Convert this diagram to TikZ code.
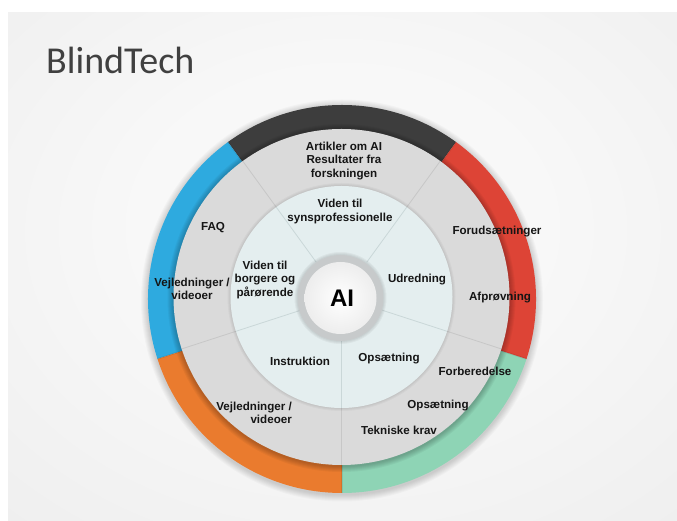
\documentclass[tikz,border=0pt]{standalone}
\usepackage{fontspec}
\usetikzlibrary{calc}
\setmainfont{Liberation Sans}
\newfontfamily\titlefont{Carlito}
\definecolor{bgin}{HTML}{F8F8F8}
\definecolor{bgout}{HTML}{E0E0E0}
\definecolor{segdark}{HTML}{3D3D3D}
\definecolor{segblue}{HTML}{2EAADF}
\definecolor{segorange}{HTML}{EA7B2E}
\definecolor{seggreen}{HTML}{8ED4B5}
\definecolor{segred}{HTML}{DD4436}
\definecolor{ringgray}{HTML}{DADADA}
\definecolor{ringline}{HTML}{C7C7C7}
\definecolor{corefill}{HTML}{E4EEEF}
\definecolor{coreline}{HTML}{CAD7D8}
\definecolor{hubring}{HTML}{C7CACB}
\definecolor{txt}{HTML}{151515}
\definecolor{titlecol}{HTML}{404040}
\begin{document}
\begin{tikzpicture}[x=1pt,y=1pt,
  lbl/.style={font=\bfseries\fontsize{11.6}{13.5}\selectfont, align=center, text=txt, inner sep=0pt},
  divider/.style={ringline, line width=0.8pt},
  coredivider/.style={coreline, line width=0.8pt},
  segedge/.style={black, opacity=0.08, line width=1.6pt}]
\useasboundingbox (0,0) rectangle (677,521);
\fill[white] (0,0) rectangle (677,521);
% slide background
\pgfdeclareradialshading{slidebg}{\pgfpoint{0bp}{5bp}}{color(0bp)=(bgin); color(15bp)=(bgin); color(75bp)=(bgout)}
\shade[shading=slidebg] (8,0) rectangle (677,508);

% centres
\coordinate (oc) at (342,222);   % outer coloured ring
\coordinate (c) at (341.5,224);  % inner rings

% soft shadow around the coloured ring
\foreach \i in {1,...,7} {\fill[black, opacity=0.022] ($(oc)+(0,-1.5)$) circle ({194+\i});}

% coloured outer segments
\fill[segdark]   (oc) -- ++(54:194)  arc[start angle=54,  end angle=126, radius=194] -- cycle;
\fill[segblue]   (oc) -- ++(126:194) arc[start angle=126, end angle=198, radius=194] -- cycle;
\fill[segorange] (oc) -- ++(198:194) arc[start angle=198, end angle=270, radius=194] -- cycle;
\fill[seggreen]  (oc) -- ++(270:194) arc[start angle=270, end angle=342, radius=194] -- cycle;
\fill[segred]    (oc) -- ++(342:194) arc[start angle=-18, end angle=54,  radius=194] -- cycle;
\foreach \a in {54,126,198,270,342} {\draw[segedge] ($(oc)+(\a:160)$) -- ($(oc)+(\a:194)$);}

% shadow of the grey ring onto the coloured ring
\foreach \i in {1,...,6} {\fill[black, opacity=0.04] ($(c)+(0,-1)$) circle ({168+\i});}

% grey ring
\fill[ringgray] (c) circle (168);
\foreach \a in {54,126,198,270,342} {\draw[divider] ($(c)+(\a:111)$) -- ($(c)+(\a:168)$);}

% light core ring
\foreach \i in {1,...,3} {\fill[black, opacity=0.03] (c) circle ({111+\i});}
\fill[corefill] (c) circle (111);
\foreach \a in {54,126,198,270,342} {\draw[coredivider] ($(c)+(\a:43)$) -- ($(c)+(\a:111)$);}

% hub
\foreach \i in {1,...,3} {\fill[black, opacity=0.04] (340.5,223) circle ({43+\i});}
\fill[hubring] (340.5,223) circle (43);
\shade[inner color=white, outer color=white!93!black] (340.5,223) circle (36);
\node[font=\bfseries\fontsize{24}{24}\selectfont, text=black, inner sep=0pt] (ai) at (342,222.5) {AI};

% title
\node[font=\titlefont\fontsize{38}{38}\selectfont, text=titlecol, anchor=base west, inner sep=0pt] (title) at (46,447) {BlindTech};

% outer ring labels
\node[lbl] (art) at (344,360) {Artikler om AI\\Resultater fra\\forskningen};
\node[lbl] (faq) at (213,293) {FAQ};
\node[lbl] (vejA) at (192,232) {Vejledninger /\\videoer};
\node[lbl] (forud) at (497,289) {Forudsætninger};
\node[lbl] (afpr) at (500,223) {Afprøvning};
\node[lbl] (forb) at (475,150) {Forberedelse};
\node[lbl] (opsB) at (438,115) {Opsætning};
\node[lbl] (tek) at (399,91) {Tekniske krav};
\node[lbl, align=right, anchor=east] (vejB) at (292,108) {Vejledninger /\\videoer};

% core ring labels
\node[lbl] (syn) at (340,309.5) {Viden til\\synsprofessionelle};
\node[lbl] (borg) at (265,241) {Viden til\\borgere og\\pårørende};
\node[lbl] (udr) at (417,241) {Udredning};
\node[lbl] (instr) at (300,160) {Instruktion};
\node[lbl] (opsA) at (389,162) {Opsætning};
\end{tikzpicture}
\end{document}
